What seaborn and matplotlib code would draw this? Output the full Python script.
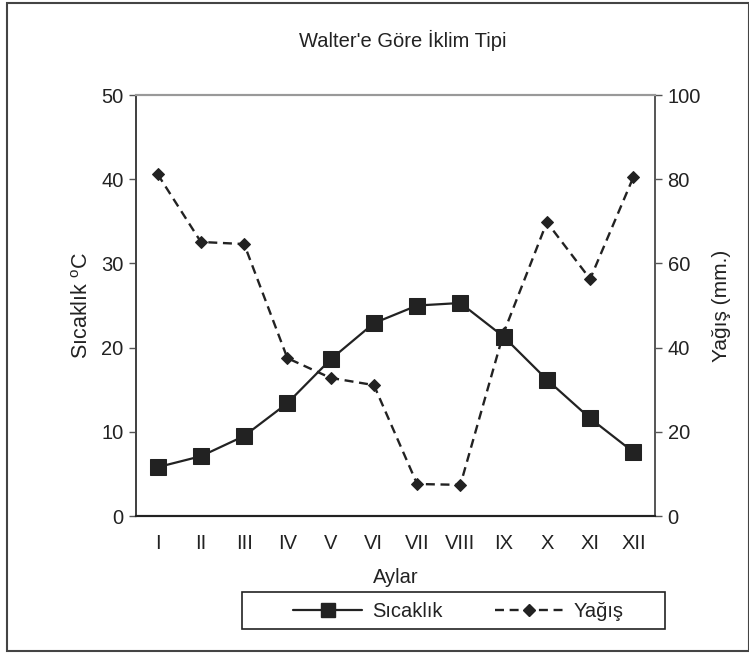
import numpy as np
import pandas as pd
import matplotlib
matplotlib.use('Agg')
import matplotlib.pyplot as plt
from matplotlib.patches import Rectangle
from matplotlib.lines import Line2D
import seaborn as sns

# Aylık değerler
aylar = ['I', 'II', 'III', 'IV', 'V', 'VI', 'VII', 'VIII', 'IX', 'X', 'XI', 'XII']
sicaklik = [5.8, 7.1, 9.5, 13.4, 18.6, 22.9, 25.0, 25.3, 21.3, 16.2, 11.6, 7.6]
yagis = [81.2, 65.1, 64.6, 37.5, 32.8, 31.1, 7.6, 7.4, 43.5, 69.8, 56.3, 80.5]

sns.set_style('white')
plt.rcParams['font.family'] = ['Liberation Sans', 'DejaVu Sans']
plt.rcParams['mathtext.fontset'] = 'custom'
plt.rcParams['mathtext.rm'] = 'Liberation Sans'

df = pd.DataFrame({'ay': np.arange(len(aylar)), 'sicaklik': sicaklik, 'yagis': yagis})

ink = '#222222'
fs = 14.5
dash = (0, (3.8, 2.4))

fig = plt.figure(figsize=(7.49, 6.55), dpi=100)
ax = fig.add_axes([0.1816, 0.2122, 0.6929, 0.6427])
ax2 = ax.twinx()

sns.lineplot(data=df, x='ay', y='sicaklik', ax=ax, color=ink, lw=1.6,
             marker='s', markersize=11.5, markeredgecolor=ink, markerfacecolor=ink)
sns.lineplot(data=df, x='ay', y='yagis', ax=ax2, color=ink, lw=1.7,
             linestyle=dash, marker='D', markersize=6.5,
             markeredgecolor=ink, markerfacecolor=ink)

ax.set_xlim(-0.5, 11.5)
ax.set_ylim(0, 50)
ax2.set_ylim(0, 100)
ax.set_yticks(range(0, 51, 10))
ax2.set_yticks(range(0, 101, 20))
ax.set_xticks(np.arange(12))
ax.set_xticklabels(aylar)
ax.set_xticks(np.arange(-0.5, 12, 1), minor=True)
ax.tick_params(axis='x', which='major', length=0, pad=13, labelsize=fs, colors=ink)
ax.tick_params(axis='x', which='minor', length=6, width=1.2, color=ink, direction='out')
ax.tick_params(axis='y', length=5, width=1.0, color='#555555', direction='out',
               labelsize=fs, labelcolor=ink, pad=4, left=True)
ax2.tick_params(axis='y', length=5, width=1.0, color='#555555', direction='out',
                labelsize=fs, labelcolor=ink, pad=4, right=True)

ax.set_xlabel('Aylar', fontsize=fs, color=ink, labelpad=11)
ax.set_ylabel('Sıcaklık $^{\\mathrm{o}}$C', fontsize=15.5, color=ink, labelpad=6)
ax2.set_ylabel('Yağış (mm.)', fontsize=15, color=ink, labelpad=8)

for a in (ax, ax2):
    a.spines['top'].set_color('#999999')
    a.spines['top'].set_linewidth(1.5)
    a.spines['left'].set_color('#444444')
    a.spines['right'].set_color('#555555')
    a.spines['bottom'].set_color(ink)
    a.spines['left'].set_linewidth(1.4)
    a.spines['right'].set_linewidth(1.2)
    a.spines['bottom'].set_linewidth(1.5)

fig.text(0.538, 0.938, "Walter'e Göre İklim Tipi", ha='center', va='center',
         fontsize=fs, color=ink)

handles = [Line2D([], [], color=ink, lw=1.6, marker='s', markersize=10),
           Line2D([], [], color=ink, lw=1.7, linestyle=dash, marker='D', markersize=6)]
leg = fig.legend(handles, ['Sıcaklık', 'Yağış'], ncol=2, loc='center',
                 bbox_to_anchor=(0.612, 0.0665), frameon=False,
                 fontsize=fs, handlelength=3.4, columnspacing=2.6, borderpad=0.3,
                 handletextpad=0.5)
for t in leg.get_texts():
    t.set_color(ink)

# legend frame, wider than matplotlib's own padding allows
fig.patches.append(Rectangle((0.323, 0.0397), 0.565, 0.0565, transform=fig.transFigure,
                             fill=False, edgecolor=ink, lw=1.2))

fig.patches.append(Rectangle((0.0095, 0.006), 0.99, 0.99, transform=fig.transFigure,
                             fill=False, edgecolor='#444444', lw=1.5))

fig.savefig('out.png', dpi=100)
